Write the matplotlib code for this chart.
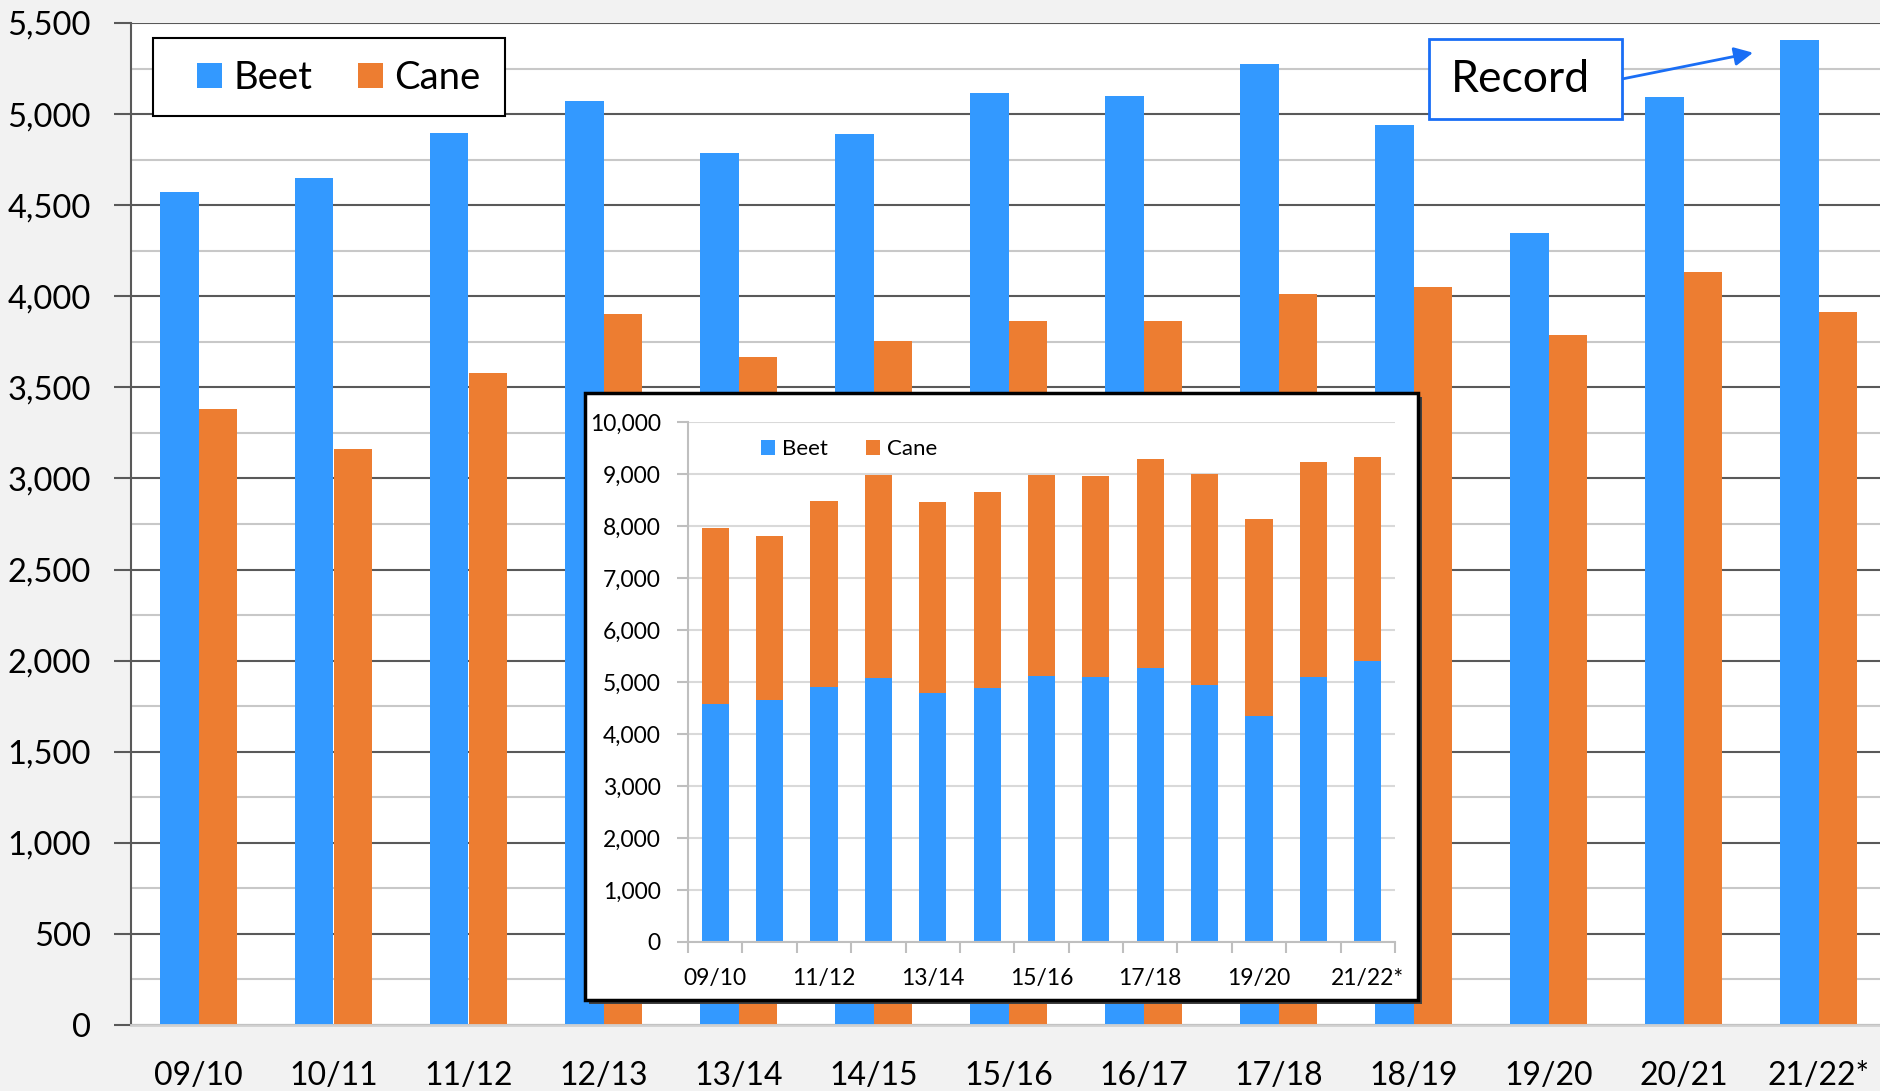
import numpy as np
import matplotlib
matplotlib.use('Agg')
import matplotlib.pyplot as plt
from matplotlib.patches import Rectangle
from matplotlib.ticker import MultipleLocator, FuncFormatter

plt.rcParams['font.family'] = ['Lato', 'DejaVu Sans']

# sugar production by season (thousand tonnes)
seasons = ['09/10', '10/11', '11/12', '12/13', '13/14', '14/15', '15/16',
           '16/17', '17/18', '18/19', '19/20', '20/21', '21/22*']
beet = [4572, 4651, 4895, 5072, 4789, 4888, 5118, 5099, 5276, 4941, 4349, 5092, 5408]
cane = [3382, 3164, 3579, 3901, 3664, 3757, 3862, 3862, 4013, 4053, 3789, 4132, 3914]

BEET = '#3399FF'
CANE = '#ED7D31'
W, H = 1880, 1091


def box(left, top, right, bottom):
    # pixel box (top-left origin) -> figure fraction rect
    return [left / W, 1 - bottom / H, (right - left) / W, (bottom - top) / H]


def thousands(v, pos):
    return f'{v:,.0f}'


fig = plt.figure(figsize=(W / 100, H / 100), dpi=100, facecolor='#f2f2f2')

# main chart
ax = fig.add_axes(box(131, 23, 1880, 1025))
x = np.arange(len(seasons))
bw = 0.285
ax.bar(x - bw / 2, beet, bw, color=BEET, label='Beet')
ax.bar(x + bw / 2, cane, bw, color=CANE, label='Cane')
ax.set_xlim(-0.5, 12.5 - 6 / 135)
ax.set_ylim(0, 5500)
ax.yaxis.set_major_locator(MultipleLocator(500))
ax.yaxis.set_minor_locator(MultipleLocator(250))
ax.yaxis.set_major_formatter(FuncFormatter(thousands))
ax.grid(axis='y', which='major', color='#595959', lw=1.5)
ax.grid(axis='y', which='minor', color='#c8c8c8', lw=1.5)
ax.set_axisbelow(True)
ax.tick_params(axis='y', which='major', length=12, width=1.5, color='#595959',
               pad=17, labelsize=23.5)
ax.tick_params(axis='y', which='minor', length=0)
ax.set_xticks(x)
ax.set_xticklabels(seasons)
ax.tick_params(axis='x', length=0, pad=26, labelsize=23)
ax.spines['top'].set_visible(False)
ax.spines['right'].set_visible(False)
ax.spines['left'].set_color('#595959')
ax.spines['left'].set_linewidth(1.5)
ax.spines['bottom'].set_color('#d0d0d0')
ax.spines['bottom'].set_linewidth(2)

# main legend with its own frame
frame = Rectangle((153 / W, 1 - 116 / H), (505 - 153) / W, (116 - 38) / H,
                  transform=fig.transFigure, fc='white', ec='black', lw=1.5,
                  zorder=4, clip_on=False)
ax.add_artist(frame)
leg = ax.legend(loc='center left', bbox_to_anchor=(197 / W, 1 - 78 / H),
                bbox_transform=fig.transFigure, fontsize=27.5, frameon=False, ncol=2,
                handlelength=0.65, handleheight=0.65, handletextpad=0.3,
                columnspacing=1.2, borderpad=0, borderaxespad=0)
leg.set_zorder(5)

# record callout
fig.add_artist(Rectangle((1429 / W, 1 - 119 / H), (1622 - 1429) / W, (119 - 39) / H,
                         transform=fig.transFigure, fc='white', ec='#1a6ef5',
                         lw=2, zorder=3))
fig.text(1451 / W, 1 - 79 / H, 'Record', fontsize=32, ha='left', va='center',
         zorder=4)
ax.annotate('', xy=(11.515, 5337), xycoords='data',
            xytext=(1622, H - 79), textcoords='figure pixels',
            arrowprops=dict(arrowstyle='-|>', color='#1a6ef5', lw=2,
                            mutation_scale=28, shrinkA=0, shrinkB=0))

# inset: stacked totals
fig.add_artist(Rectangle((589 / W, 1 - 1004 / H), (1418 - 585) / W, (1000 - 393) / H,
                         transform=fig.transFigure, fc='#404040', ec='none', zorder=1))
fig.add_artist(Rectangle((585 / W, 1 - 1000 / H), (1418 - 585) / W, (1000 - 393) / H,
                         transform=fig.transFigure, fc='white', ec='black',
                         lw=2.5, zorder=1.1))

ins = fig.add_axes(box(688, 422, 1395, 942), zorder=2)
ins.patch.set_alpha(0)
ins.bar(x, beet, 0.5, color=BEET, label='Beet')
ins.bar(x, cane, 0.5, bottom=beet, color=CANE, label='Cane')
ins.set_xlim(-0.5, 12.5)
ins.set_ylim(0, 10000)
ins.yaxis.set_major_locator(MultipleLocator(1000))
ins.yaxis.set_major_formatter(FuncFormatter(thousands))
ins.grid(axis='y', color='#d9d9d9', lw=1.5)
ins.set_axisbelow(True)
ins.tick_params(axis='y', length=8, width=1.5, color='#bfbfbf', pad=11.5,
                labelsize=16.5)
ins.set_xticks(x[::2])
ins.set_xticklabels(seasons[::2])
ins.set_xticks(np.arange(-0.5, 13, 1), minor=True)
ins.tick_params(axis='x', which='major', length=0, pad=19, labelsize=16.5)
ins.tick_params(axis='x', which='minor', length=8, width=1.5, color='#bfbfbf')
ins.spines['top'].set_visible(False)
ins.spines['right'].set_visible(False)
for s in ['left', 'bottom']:
    ins.spines[s].set_color('#bfbfbf')
    ins.spines[s].set_linewidth(1.5)
ins.legend(loc='center left', bbox_to_anchor=(761 / W, 1 - 449 / H),
           bbox_transform=fig.transFigure, fontsize=16, frameon=False, ncol=2,
           handlelength=0.65, handleheight=0.65, handletextpad=0.3,
           columnspacing=1.7, borderpad=0, borderaxespad=0)

fig.savefig('out.png', dpi=100, facecolor=fig.get_facecolor())
